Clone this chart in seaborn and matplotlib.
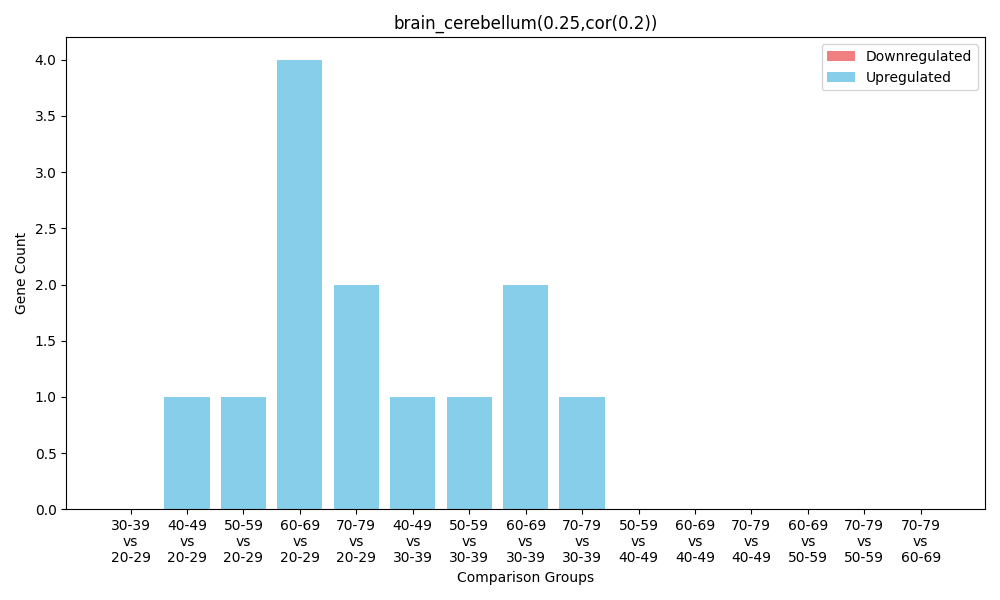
import matplotlib
matplotlib.use('Agg')
import matplotlib.pyplot as plt
import numpy as np
import seaborn as sns

groups = ['30-39\nvs\n20-29', '40-49\nvs\n20-29', '50-59\nvs\n20-29', '60-69\nvs\n20-29',
          '70-79\nvs\n20-29', '40-49\nvs\n30-39', '50-59\nvs\n30-39', '60-69\nvs\n30-39',
          '70-79\nvs\n30-39', '50-59\nvs\n40-49', '60-69\nvs\n40-49', '70-79\nvs\n40-49',
          '60-69\nvs\n50-59', '70-79\nvs\n50-59', '70-79\nvs\n60-69']
down = [0, 0, 0, 0, 0, 0, 0, 0, 0, 0, 0, 0, 0, 0, 0]
up = [0, 1, 1, 4, 2, 1, 1, 2, 1, 0, 0, 0, 0, 0, 0]

fig, ax = plt.subplots(figsize=(10, 6), dpi=100)
total = np.array(down) + np.array(up)
sns.barplot(x=groups, y=total, color='skyblue', saturation=1, width=0.8, ax=ax, label='Upregulated')
sns.barplot(x=groups, y=down, color='lightcoral', saturation=1, width=0.8, ax=ax, label='Downregulated')

handles, labels = ax.get_legend_handles_labels()
ax.legend(handles[::-1], labels[::-1], loc='upper right')
ax.set_xlim(-1.14, 15.14)
ax.set_ylim(0, 4.2)
ax.set_yticks(np.arange(0, 4.01, 0.5))
ax.set_title('brain_cerebellum(0.25,cor(0.2))')
ax.set_xlabel('Comparison Groups')
ax.set_ylabel('Gene Count')
fig.tight_layout()
fig.savefig('out.png')
